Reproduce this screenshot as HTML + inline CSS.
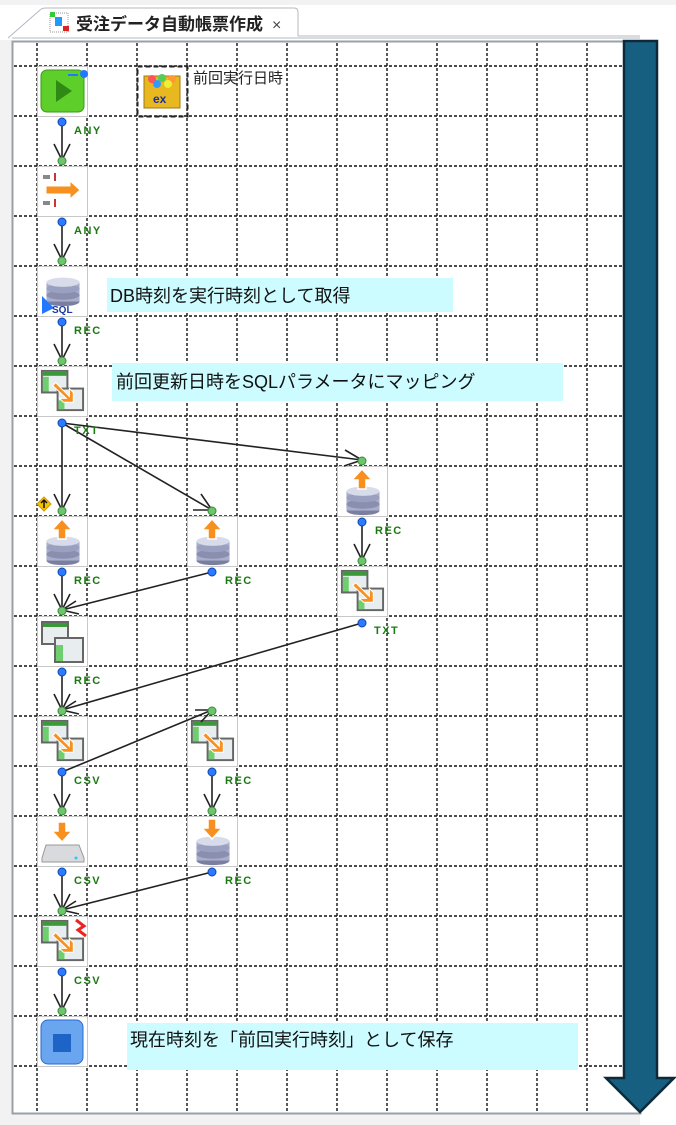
<!DOCTYPE html>
<html><head><meta charset="utf-8"><style>
html,body{margin:0;padding:0;background:#fff;}
svg{display:block;}
text{font-family:"Liberation Sans","Noto Sans CJK JP",sans-serif;}
.lbl{font-family:"Liberation Sans",sans-serif;font-weight:bold;font-size:11px;fill:#1a7a10;letter-spacing:1.5px;}
.cm{font-size:18px;fill:#111;}
</style></head><body>
<svg width="676" height="1125" viewBox="0 0 676 1125" xmlns="http://www.w3.org/2000/svg">
<defs>
<symbol id="db" viewBox="0 0 50 50">
<ellipse cx="25" cy="43" rx="18" ry="5" fill="#7a7fa0"/>
<rect x="7" y="22" width="36" height="21" fill="#a9aecb"/>
<ellipse cx="25" cy="36" rx="18" ry="5" fill="#8a8fb0"/>
<ellipse cx="25" cy="29" rx="18" ry="5" fill="#9aa0bf"/>
<ellipse cx="25" cy="22" rx="18" ry="5" fill="#d8dbea"/>
</symbol>
<symbol id="up" viewBox="0 0 50 50"><path d="M25 3 L35 14 L29 14 L29 23 L21 23 L21 14 L15 14 Z" fill="#f7901e" stroke="#fff" stroke-width="1.5"/></symbol>
<symbol id="dn" viewBox="0 0 50 50"><path d="M25 23 L35 12 L29 12 L29 3 L21 3 L21 12 L15 12 Z" fill="#f7901e" stroke="#fff" stroke-width="1.5"/></symbol>
<symbol id="map" viewBox="0 0 50 50">
<rect x="4" y="4" width="26" height="22" fill="#e8eef0" stroke="#666" stroke-width="2"/>
<rect x="5" y="5" width="24" height="4" fill="#3a9a3a"/>
<rect x="5" y="10" width="6" height="15" fill="#6fcf6f"/>
<rect x="20" y="22" width="26" height="22" fill="#e8eef0" stroke="#666" stroke-width="2"/>
<rect x="21" y="34" width="6" height="9" fill="#6fcf6f"/>
<path d="M18 16 L32 30 L32 22 L36 26 L36 36 L26 36 L22 32 L29 32 L15 19 Z" fill="#f7901e" stroke="#fff" stroke-width="1"/>
</symbol>
</defs>
<rect x="0" y="0" width="676" height="5" fill="#f2f2f2"/>
<rect x="0" y="40" width="12" height="1085" fill="#f2f2f2"/>
<rect x="0" y="1114" width="640" height="11" fill="#f2f2f2"/>
<!-- tab -->
<path d="M8 38 L40 10 Q42 8 46 8 L294 8 Q298 8 298 12 L298 36 L640 36" fill="#fff" stroke="#b5b9c0" stroke-width="1"/>
<line x1="12" y1="38" x2="640" y2="38" stroke="#b5b9c0" stroke-width="1"/>
<rect x="50" y="13" width="18" height="19" fill="none" stroke="#999" stroke-dasharray="1,1"/>
<rect x="50" y="12" width="5" height="5" fill="#3c3"/><rect x="55" y="17" width="7" height="9" fill="#29f"/><rect x="63" y="26" width="6" height="5" fill="#d22"/>
<text x="76" y="30" font-size="17" font-weight="bold" fill="#222">受注データ自動帳票作成</text>
<text x="272" y="30" font-size="16" fill="#444">×</text>
<!-- canvas -->
<rect x="12.5" y="41.5" width="628" height="1072" fill="#fff" stroke="#9aa0a8" stroke-width="2"/>
<g stroke="#111" stroke-width="1.4" stroke-dasharray="3,2">
<line x1="37" y1="43" x2="37" y2="1112"/><line x1="87" y1="43" x2="87" y2="1112"/><line x1="137" y1="43" x2="137" y2="1112"/><line x1="187" y1="43" x2="187" y2="1112"/><line x1="237" y1="43" x2="237" y2="1112"/><line x1="287" y1="43" x2="287" y2="1112"/><line x1="337" y1="43" x2="337" y2="1112"/><line x1="387" y1="43" x2="387" y2="1112"/><line x1="437" y1="43" x2="437" y2="1112"/><line x1="487" y1="43" x2="487" y2="1112"/><line x1="537" y1="43" x2="537" y2="1112"/><line x1="587" y1="43" x2="587" y2="1112"/>
<line x1="14" y1="66" x2="640" y2="66"/><line x1="14" y1="116" x2="640" y2="116"/><line x1="14" y1="166" x2="640" y2="166"/><line x1="14" y1="216" x2="640" y2="216"/><line x1="14" y1="266" x2="640" y2="266"/><line x1="14" y1="316" x2="640" y2="316"/><line x1="14" y1="366" x2="640" y2="366"/><line x1="14" y1="416" x2="640" y2="416"/><line x1="14" y1="466" x2="640" y2="466"/><line x1="14" y1="516" x2="640" y2="516"/><line x1="14" y1="566" x2="640" y2="566"/><line x1="14" y1="616" x2="640" y2="616"/><line x1="14" y1="666" x2="640" y2="666"/><line x1="14" y1="716" x2="640" y2="716"/><line x1="14" y1="766" x2="640" y2="766"/><line x1="14" y1="816" x2="640" y2="816"/><line x1="14" y1="866" x2="640" y2="866"/><line x1="14" y1="916" x2="640" y2="916"/><line x1="14" y1="966" x2="640" y2="966"/><line x1="14" y1="1016" x2="640" y2="1016"/><line x1="14" y1="1066" x2="640" y2="1066"/>
</g>
<!-- comments -->
<rect x="107" y="278" width="346" height="34" fill="#ccfcff"/>
<text x="110" y="302" class="cm">DB時刻を実行時刻として取得</text>
<rect x="112" y="363" width="451" height="38" fill="#ccfcff"/>
<text x="116" y="388" class="cm">前回更新日時をSQLパラメータにマッピング</text>
<rect x="127" y="1023" width="451" height="47" fill="#ccfcff"/>
<text x="130" y="1046" class="cm">現在時刻を「前回実行時刻」として保存</text>
<!-- node frames -->
<g fill="#fff" stroke="#c8c8c8" stroke-width="1">
<rect x="37.5" y="66.5" width="50" height="50"/><rect x="37.5" y="166.5" width="50" height="50"/><rect x="37.5" y="266.5" width="50" height="50"/><rect x="37.5" y="366.5" width="50" height="50"/>
<rect x="337.5" y="466.5" width="50" height="50"/><rect x="37.5" y="516.5" width="50" height="50"/><rect x="187.5" y="516.5" width="50" height="50"/><rect x="337.5" y="566.5" width="50" height="50"/>
<rect x="37.5" y="616.5" width="50" height="50"/><rect x="37.5" y="716.5" width="50" height="50"/><rect x="187.5" y="716.5" width="50" height="50"/>
<rect x="37.5" y="816.5" width="50" height="50"/><rect x="187.5" y="816.5" width="50" height="50"/><rect x="37.5" y="916.5" width="50" height="50"/><rect x="37.5" y="1016.5" width="50" height="50"/>
</g>
<!-- start -->
<rect x="41" y="70" width="43" height="42" rx="6" fill="#5ecf2a" stroke="#3a9a1a"/>
<path d="M56 80 L72 91 L56 102 Z" fill="#2f8a15"/>
<circle cx="84" cy="74" r="4" fill="#27f"/><path d="M68 75 L78 75" stroke="#27f" stroke-width="2"/>
<!-- variable -->
<rect x="137.5" y="66.5" width="50" height="50" fill="none" stroke="#222" stroke-width="2" stroke-dasharray="5,3"/>
<rect x="144" y="76" width="36" height="32" fill="#e8b820" stroke="#a07a10"/>
<circle cx="152" cy="79" r="4" fill="#f55"/><circle cx="162" cy="78" r="4" fill="#5c5"/><circle cx="172" cy="79" r="4" fill="#f93"/><circle cx="157" cy="84" r="4" fill="#39f"/><circle cx="168" cy="84" r="4" fill="#ee3"/>
<text x="153" y="103" font-size="12" font-weight="bold" fill="#1a2ea0">ex</text>
<text x="193" y="83" font-size="15" fill="#222">前回実行日時</text>
<!-- flow -->
<path d="M43 177 L50 177 M43 203 L50 203" stroke="#888" stroke-width="4"/><path d="M55 173 L55 181 M55 199 L55 207" stroke="#c33" stroke-width="2"/>
<path d="M46 186 L70 186 L70 181 L80 190 L70 199 L70 194 L46 194 Z" fill="#f7901e" stroke="#fff"/>
<!-- sql -->
<use href="#db" x="38" y="262" width="50" height="46"/>
<path d="M42 296 L54 308 L42 314 Z" fill="#27f"/><text x="52" y="313" font-size="10" font-weight="bold" fill="#1a3aa0">SQL</text>
<!-- mappers -->
<use href="#map" x="38" y="367" width="49" height="49"/>
<use href="#map" x="338" y="567" width="49" height="49"/>
<use href="#map" x="38" y="717" width="49" height="49"/>
<use href="#map" x="188" y="717" width="49" height="49"/>
<use href="#map" x="38" y="917" width="49" height="49"/>
<path d="M76 920 L84 926 L78 930 L86 936" stroke="#e22" stroke-width="3" fill="none"/>
<!-- merge -->
<rect x="42" y="622" width="26" height="22" fill="#e8eef0" stroke="#666" stroke-width="2"/><rect x="43" y="623" width="24" height="4" fill="#3a9a3a"/>
<rect x="55" y="638" width="28" height="24" fill="#e8eef0" stroke="#666" stroke-width="2"/><rect x="56" y="645" width="7" height="16" fill="#6fcf6f"/>
<!-- dbs -->
<use href="#db" x="38" y="521" width="50" height="46"/><use href="#up" x="37" y="516" width="50" height="50"/>
<use href="#db" x="188" y="521" width="50" height="46"/><use href="#up" x="187" y="516" width="50" height="50"/>
<use href="#db" x="338" y="471" width="50" height="46"/><use href="#up" x="337" y="466" width="50" height="50"/>
<use href="#db" x="188" y="821" width="50" height="46"/><use href="#dn" x="187" y="816" width="50" height="50"/>
<!-- file -->
<path d="M46 845 L79 845 L84 858 L84 862 L42 862 L42 858 Z" fill="#d8dade" stroke="#999"/>
<circle cx="76" cy="858" r="1.5" fill="#2cf"/>
<use href="#dn" x="37" y="819" width="50" height="50"/>
<!-- warning -->
<path d="M44 497 L51 504 L44 511 L37 504 Z" fill="#f5c400" stroke="#c90"/><path d="M44 500 L44 508 M41 503 L44 500 L47 503" stroke="#111" stroke-width="1.5" fill="none"/>
<!-- end -->
<rect x="41" y="1020" width="42" height="44" rx="7" fill="#6aa6f0" stroke="#2a6ad0"/>
<rect x="53" y="1034" width="18" height="18" fill="#1d64c6"/>
<!-- edges -->
<g stroke="#222" stroke-width="1.6" fill="none">
<line x1="62" y1="122" x2="62" y2="160"/><path d="M54 144 L62 160 L70 144"/>
<line x1="62" y1="222" x2="62" y2="260"/><path d="M54 244 L62 260 L70 244"/>
<line x1="62" y1="322" x2="62" y2="360"/><path d="M54 344 L62 360 L70 344"/>
<line x1="62" y1="423" x2="62" y2="510"/><path d="M54 494 L62 510 L70 494"/>
<line x1="62" y1="423" x2="212" y2="510"/><path d="M201 494 L212 510 L193 510"/>
<line x1="62" y1="423" x2="362" y2="460"/><path d="M345 450 L362 460 L344 466"/>
<line x1="362" y1="522" x2="362" y2="560"/><path d="M354 544 L362 560 L370 544"/>
<line x1="62" y1="572" x2="62" y2="610"/><path d="M54 594 L62 610 L70 594"/>
<line x1="212" y1="572" x2="62" y2="610"/><path d="M76 601 L62 610 L79 614"/>
<line x1="62" y1="672" x2="62" y2="710"/><path d="M54 694 L62 710 L70 694"/>
<line x1="362" y1="623" x2="62" y2="710"/><path d="M76 701 L62 710 L79 714"/>
<line x1="62" y1="772" x2="62" y2="810"/><path d="M54 794 L62 810 L70 794"/>
<line x1="62" y1="772" x2="212" y2="710"/><path d="M195 710 L212 710 L201 722"/>
<line x1="212" y1="772" x2="212" y2="810"/><path d="M204 794 L212 810 L220 794"/>
<line x1="62" y1="872" x2="62" y2="910"/><path d="M54 894 L62 910 L70 894"/>
<line x1="212" y1="872" x2="62" y2="910"/><path d="M76 901 L62 910 L79 914"/>
<line x1="62" y1="972" x2="62" y2="1010"/><path d="M54 994 L62 1010 L70 994"/>
</g>
<!-- ports -->
<g fill="#2a7bff" stroke="#1145b0" stroke-width="1">
<circle cx="62" cy="122" r="4"/><circle cx="62" cy="222" r="4"/><circle cx="62" cy="322" r="4"/><circle cx="62" cy="423" r="4"/>
<circle cx="362" cy="522" r="4"/><circle cx="62" cy="572" r="4"/><circle cx="212" cy="572" r="4"/><circle cx="362" cy="623" r="4"/>
<circle cx="62" cy="672" r="4"/><circle cx="62" cy="772" r="4"/><circle cx="212" cy="772" r="4"/><circle cx="62" cy="872" r="4"/><circle cx="212" cy="872" r="4"/><circle cx="62" cy="972" r="4"/>
</g>
<g fill="#6cc46c" stroke="#3a8a3a" stroke-width="1">
<circle cx="62" cy="161" r="4"/><circle cx="62" cy="261" r="4"/><circle cx="62" cy="361" r="4"/><circle cx="362" cy="461" r="4"/>
<circle cx="62" cy="511" r="4"/><circle cx="212" cy="511" r="4"/><circle cx="362" cy="561" r="4"/><circle cx="62" cy="611" r="4"/>
<circle cx="62" cy="711" r="4"/><circle cx="212" cy="711" r="4"/><circle cx="62" cy="811" r="4"/><circle cx="212" cy="811" r="4"/><circle cx="62" cy="911" r="4"/><circle cx="62" cy="1011" r="4"/>
</g>
<!-- labels -->
<text x="74" y="134" class="lbl">ANY</text><text x="74" y="234" class="lbl">ANY</text><text x="74" y="334" class="lbl">REC</text><text x="74" y="434" class="lbl">TXT</text>
<text x="375" y="534" class="lbl">REC</text><text x="74" y="584" class="lbl">REC</text><text x="225" y="584" class="lbl">REC</text><text x="374" y="634" class="lbl">TXT</text>
<text x="74" y="684" class="lbl">REC</text><text x="74" y="784" class="lbl">CSV</text><text x="225" y="784" class="lbl">REC</text>
<text x="74" y="884" class="lbl">CSV</text><text x="225" y="884" class="lbl">REC</text><text x="74" y="984" class="lbl">CSV</text>
<!-- big arrow -->
<path d="M624 41 L657 41 L657 1078 L674 1078 L640 1112 L606 1078 L624 1078 Z" fill="#165f80" stroke="#0c2a3a" stroke-width="2.5"/>
</svg>
</body></html>
